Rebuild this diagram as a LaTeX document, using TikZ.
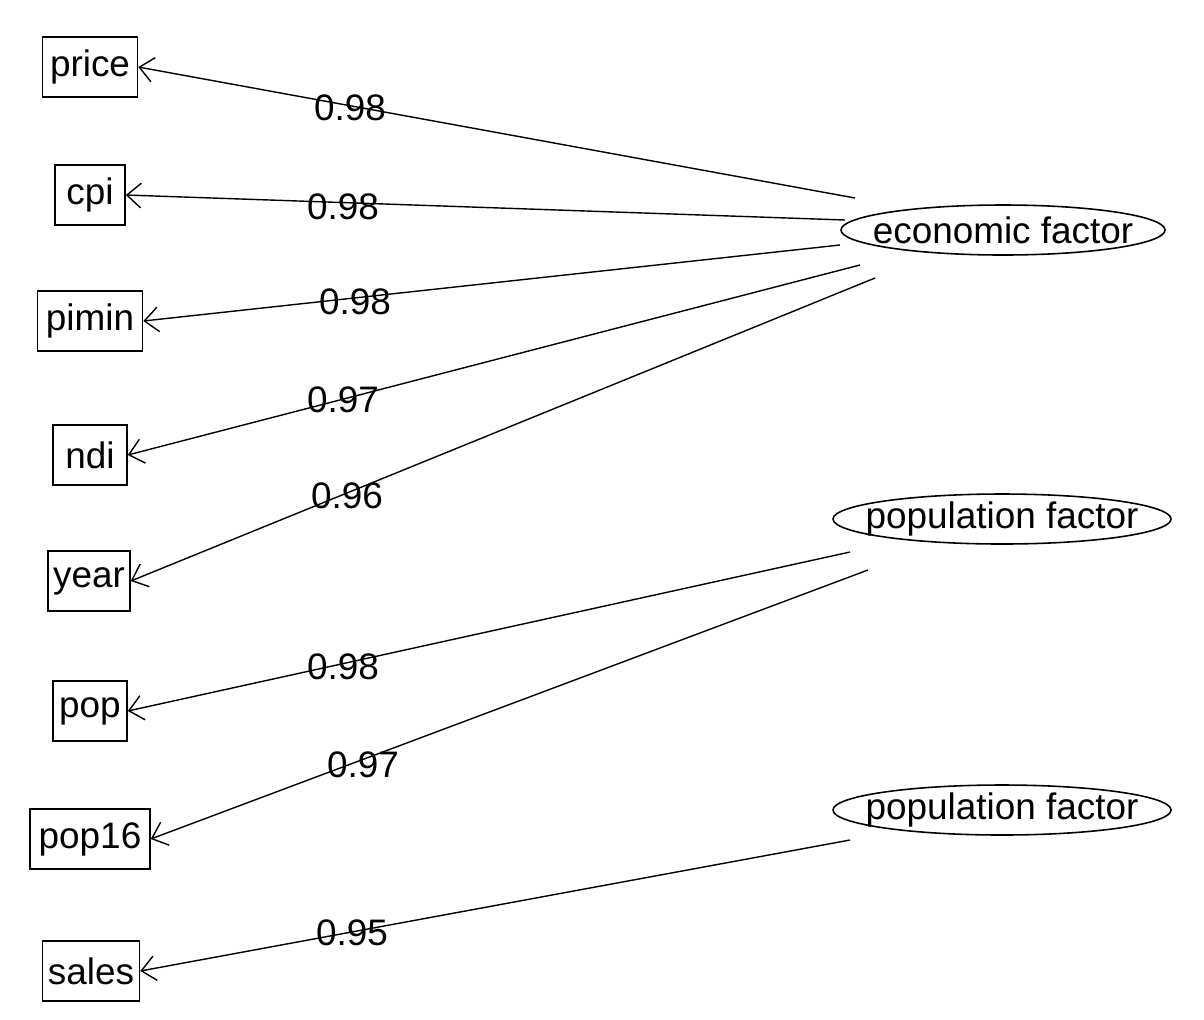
\documentclass[tikz,border=0pt]{standalone}
\usepackage{fontspec}
\setmainfont{Liberation Sans}
\usetikzlibrary{arrows.meta,shapes.geometric}
\begin{document}
\begin{tikzpicture}[x=0.02cm,y=-0.02cm,
  font=\fontsize{21}{24}\selectfont,
  var/.style={draw,line width=0.9pt,rectangle,inner sep=0pt,minimum height=1.2cm},
  fac/.style={inner sep=0pt},
  ell/.style={line width=0.9pt},
  load/.style={line width=0.8pt,-{Straight Barb[length=8pt,width=14pt]}},
  lab/.style={inner sep=0pt}]
\useasboundingbox (0,0) rectangle (1204,1019);
\node[var,minimum width=1.9cm] (price) at (90,67) {price};
\node[var,minimum width=1.4cm] (cpi) at (90,195) {cpi};
\node[var,minimum width=2.1cm] (pimin) at (90,321) {pimin};
\node[var,minimum width=1.48cm] (ndi) at (90,455) {ndi};
\node[var,minimum width=1.64cm] (year) at (89,581) {year};
\node[var,minimum width=1.48cm] (pop) at (90,711) {pop};
\node[var,minimum width=2.4cm] (pop16) at (90,839) {pop16};
\node[var,minimum width=1.94cm] (sales) at (91,971) {sales};
\node[fac] (econ) at (1003,230) {economic factor};
\node[fac] (popf) at (1002,519) {population factor};
\node[fac] (popf2) at (1002,810) {population factor};
\draw[ell] (econ.center) ellipse [x radius=162,y radius=25];
\draw[ell] (popf.center) ellipse [x radius=169,y radius=25];
\draw[ell] (popf2.center) ellipse [x radius=169,y radius=25];
\coordinate (e1) at (855,198);
\coordinate (e2) at (845,220);
\coordinate (e3) at (840,245);
\coordinate (e4) at (860,265);
\coordinate (e5) at (875,278);
\coordinate (p1) at (850,552);
\coordinate (p2) at (868,570);
\coordinate (s1) at (850,840);
\draw[load] (e1) -- (price.east);
\draw[load] (e2) -- (cpi.east);
\draw[load] (e3) -- (pimin.east);
\draw[load] (e4) -- (ndi.east);
\draw[load] (e5) -- (year.east);
\draw[load] (p1) -- (pop.east);
\draw[load] (p2) -- (pop16.east);
\draw[load] (s1) -- (sales.east);
\node[lab] (l1) at (350,108) {0.98};
\node[lab] (l2) at (343,207) {0.98};
\node[lab] (l3) at (355,302) {0.98};
\node[lab] (l4) at (343,400) {0.97};
\node[lab] (l5) at (347,496) {0.96};
\node[lab] (l6) at (343,667) {0.98};
\node[lab] (l7) at (363,765) {0.97};
\node[lab] (l8) at (352,933) {0.95};
\end{tikzpicture}
\end{document}
